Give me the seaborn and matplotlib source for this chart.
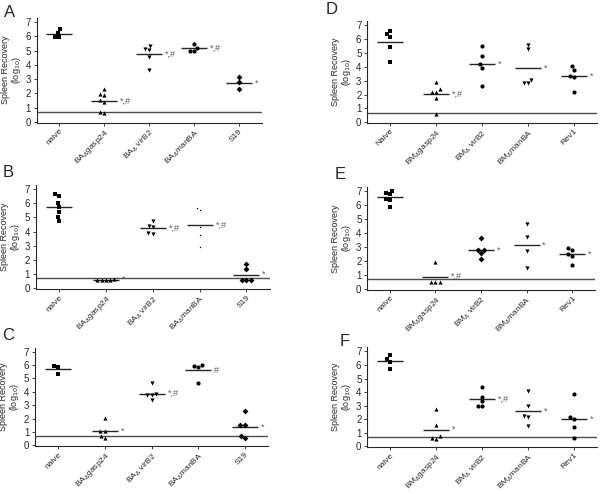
import pandas as pd
import matplotlib
matplotlib.use("Agg")
import matplotlib.pyplot as plt
import seaborn as sns

sns.set_style("ticks")
plt.rcParams["font.family"] = ["Liberation Sans", "DejaVu Sans"]

# categories / tick labels
keys = ["g1", "g2", "g3", "g4", "g5"]
labels_ba = ["naive", "BA$_{\\Delta}$gasp24", "BA$_{\\Delta}$ virB2", "BA$_{\\Delta}$manBA", "S19"]
labels_bm_d = ["Naive", "BM$_{\\Delta}$gasp24", "BM$_{\\Delta}$ virB2", "BM$_{\\Delta}$manBA", "Rev1"]
labels_bm = ["naive", "BM$_{\\Delta}$gasp24", "BM$_{\\Delta}$ virB2", "BM$_{\\Delta}$manBA", "Rev1"]

# spleen recovery values (log10) per group
a_vals = [[6.49, 6.25, 5.97, 5.97],
          [2.29, 1.94, 1.89, 1.54, 1.38, 0.61, 0.68],
          [5.32, 5.04, 5.13, 4.52, 3.64],
          [5.46, 5.2, 4.97, 4.97],
          [3.13, 2.82, 2.29]]
b_vals = [[6.64, 6.53, 5.99, 5.7, 5.4, 5.02, 4.74],
          [0.6, 0.6, 0.6, 0.6, 0.68],
          [4.77, 4.41, 4.32, 3.9, 3.85],
          [5.63, 5.54, 4.34, 3.76, 2.93],
          [1.69, 1.36, 0.58, 0.58, 0.58]]
c_vals = [[5.94, 5.82, 5.3],
          [2.03, 1.11, 1.11, 0.67, 0.54],
          [4.63, 3.84, 3.74, 3.74, 3.39],
          [6.01, 5.96, 5.84, 4.68],
          [2.55, 1.49, 1.49, 0.69, 0.54]]
d_vals = [[6.57, 6.33, 6.12, 5.44, 4.32],
          [2.93, 2.37, 2.21, 2.21, 1.77, 0.58],
          [5.49, 4.77, 4.2, 3.93, 2.61],
          [5.56, 5.25, 3.05, 2.81, 2.81],
          [4.05, 3.77, 3.33, 3.24, 2.21]]
e_vals = [[7.0, 6.76, 6.9, 6.43, 6.38, 5.9],
          [1.95, 0.52, 0.52, 0.52],
          [3.67, 2.81, 2.81, 2.57, 2.14],
          [4.64, 3.69, 2.71, 1.52],
          [2.95, 2.81, 2.52, 2.38, 1.71]]
f_vals = [[6.75, 6.43, 6.19, 5.67],
          [2.76, 1.56, 0.73, 0.61, 0.56],
          [4.4, 3.67, 3.33, 2.96, 2.96],
          [4.11, 2.96, 2.27, 2.2, 1.52],
          [3.85, 2.19, 2.04, 1.4, 0.61]]

a_sig = ["", "*,#", "*,#", "*,#", "*"]
b_sig = ["", "*", "*,#", "*,#", "*"]
c_sig = ["", "*", "*,#", "#", "*"]
d_sig = ["", "*,#", "*", "*", "*"]
e_sig = ["", "*,#", "*", "*", "*"]
f_sig = ["", "*", "*,#", "*", "*"]

detection_limit = 0.7

panels = [
    ("A", a_vals, a_sig, labels_ba, ["s", "^", "v", "o", "D"], [0.061, 0.7516, 0.375, 0.2126]),
    ("B", b_vals, b_sig, labels_ba, ["s", "^", "v", ".", "D"], [0.0595, 0.415, 0.39, 0.211]),
    ("C", c_vals, c_sig, labels_ba, ["s", "^", "v", "o", "D"], [0.058, 0.097, 0.389, 0.1994]),
    ("D", d_vals, d_sig, labels_bm_d, ["s", "^", "o", "v", "o"], [0.6117, 0.751, 0.383, 0.2068]),
    ("E", e_vals, e_sig, labels_bm, ["s", "^", "D", "v", "o"], [0.6117, 0.4136, 0.38, 0.208]),
    ("F", f_vals, f_sig, labels_bm, ["s", "^", "o", "v", "o"], [0.6117, 0.095, 0.383, 0.2019]),
]
letter_pos = {"A": (0.006, 0.99), "B": (0.004, 0.666), "C": (0.004, 0.336),
              "D": (0.542, 0.996), "E": (0.557, 0.662), "F": (0.566, 0.324)}

fig = plt.figure(figsize=(6, 4.94), dpi=100)

for letter, vals, sig, labels, markers, rect in panels:
    ax = fig.add_axes(rect)
    rows = [(k, v) for k, grp in zip(keys, vals) for v in grp]
    df = pd.DataFrame(rows, columns=["group", "value"])

    for k, m in zip(keys, markers):
        sub = df[df["group"] == k]
        sns.swarmplot(data=sub, x="group", y="value", order=keys, marker=m,
                      color="k", size=3.0 if m != "." else 2, ax=ax)

    sns.pointplot(data=df, x="group", y="value", order=keys, estimator="mean",
                  errorbar=None, linestyle="none", marker="_", color="0.15",
                  markersize=19, markeredgewidth=1.0, ax=ax)

    ax.axhline(detection_limit, color="0.3", lw=1.0, zorder=0)

    means = df.groupby("group")["value"].mean()
    for i, k in enumerate(keys):
        if sig[i]:
            ax.text(i + 0.34, means[k], sig[i], fontsize=6.5, color="0.35",
                    ha="left", va="center")

    ax.set_xlim(-0.5, 4.5)
    ax.set_ylim(-0.05, 7.3)
    ax.set_yticks(range(8))
    ax.tick_params(axis="y", labelsize=7, length=2.5, width=0.6, pad=1.5)
    ax.tick_params(axis="x", labelsize=6, length=2.5, width=0.6, pad=1)
    ax.set_xticks(range(5))
    ax.set_xticklabels(labels, rotation=45, ha="right", rotation_mode="anchor")
    ax.set_xlabel("")
    ax.set_ylabel("Spleen Recovery\n(log$_{10}$)", fontsize=6.5, labelpad=2,
                  linespacing=1.0)
    for s in ["top", "right"]:
        ax.spines[s].set_visible(False)
    for s in ["left", "bottom"]:
        ax.spines[s].set_linewidth(0.8)

    fig.text(letter_pos[letter][0], letter_pos[letter][1], letter,
             fontsize=12, ha="left", va="top")

fig.savefig("out.png", dpi=100)
